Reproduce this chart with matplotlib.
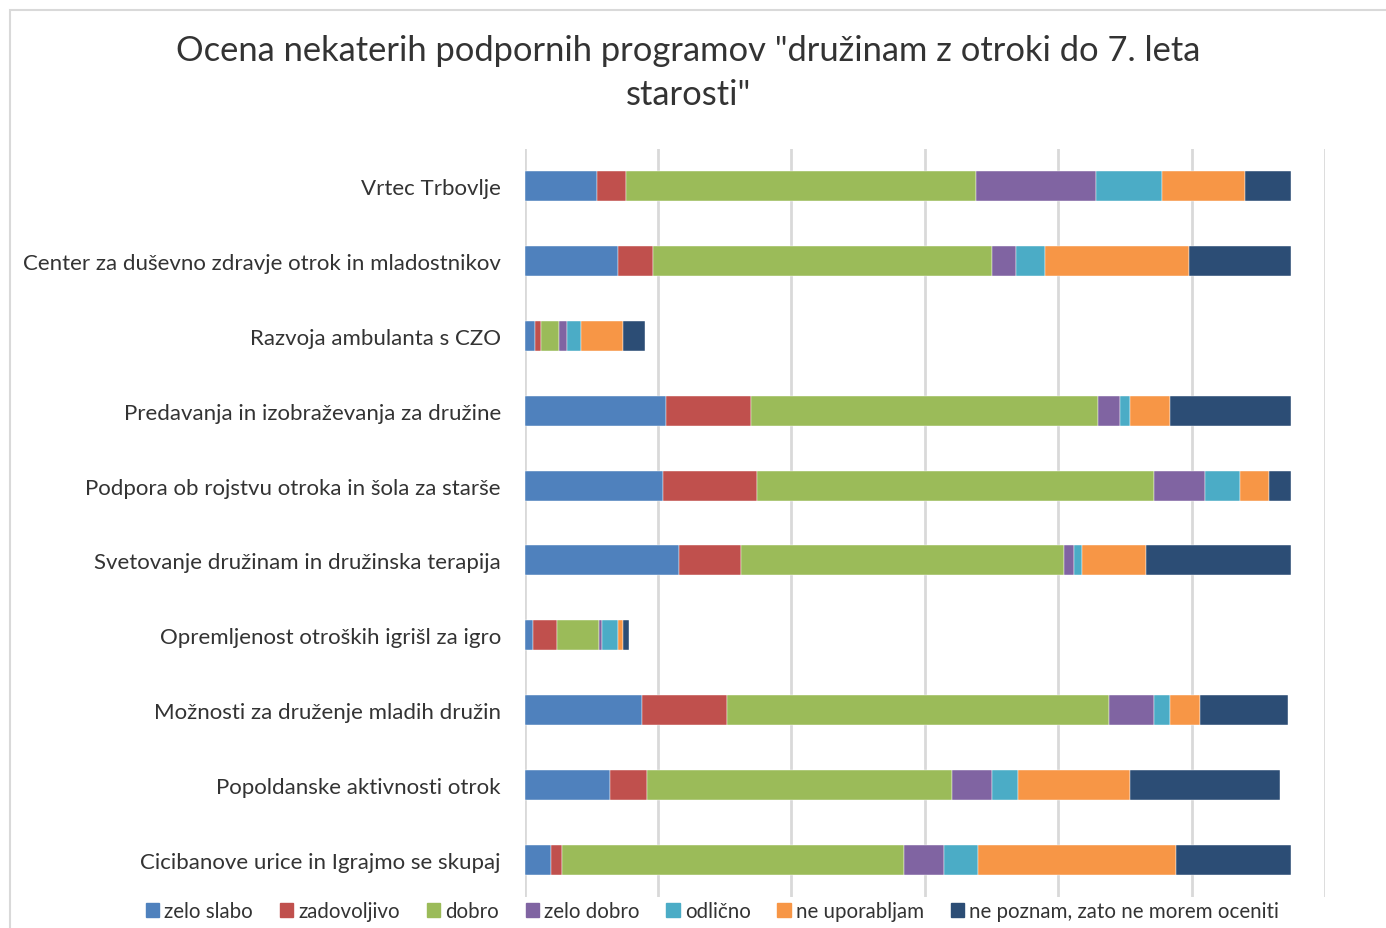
import matplotlib.pyplot as plt
import matplotlib.patches as mpatches
import numpy as np

plt.rcParams['font.family'] = ['Lato', 'DejaVu Sans']

programs = [
    "Vrtec Trbovlje",
    "Center za duševno zdravje otrok in mladostnikov",
    "Razvoja ambulanta s CZO",
    "Predavanja in izobraževanja za družine",
    "Podpora ob rojstvu otroka in šola za starše",
    "Svetovanje družinam in družinska terapija",
    "Opremljenost otroških igrišl za igro",
    "Možnosti za druženje mladih družin",
    "Popoldanske aktivnosti otrok",
    "Cicibanove urice in Igrajmo se skupaj",
]

ratings = ["zelo slabo", "zadovoljivo", "dobro", "zelo dobro", "odlično",
           "ne uporabljam", "ne poznam, zato ne morem oceniti"]

zelo_slabo    = [27, 35, 4, 53, 52, 58, 3, 44, 32, 10]
zadovoljivo   = [11, 13, 2, 32, 35, 23, 9, 32, 14, 4]
dobro         = [131, 127, 7, 130, 149, 121, 16, 143, 114, 128]
zelo_dobro    = [45, 9, 3, 8, 19, 4, 1, 17, 15, 15]
odlicno       = [25, 11, 5, 4, 13, 3, 6, 6, 10, 13]
ne_uporabljam = [31, 54, 16, 15, 11, 24, 2, 11, 42, 74]
ne_poznam     = [17, 38, 8, 45, 8, 54, 2, 33, 56, 43]

series = [zelo_slabo, zadovoljivo, dobro, zelo_dobro, odlicno, ne_uporabljam, ne_poznam]
colors = ["#4F81BD", "#C0504D", "#9BBB59", "#8064A2", "#4BACC6", "#F79646", "#2C4D75"]

fig = plt.figure(figsize=(13.86, 9.29), dpi=100)
ax = fig.add_axes([524.5 / 1386, 1 - 898 / 929, (1325.3 - 524.5) / 1386, (898 - 150) / 929])

y = np.arange(len(programs))
left = np.zeros(len(programs))
for vals, col, name in zip(series, colors, ratings):
    vals = np.array(vals, dtype=float)
    ax.barh(y, vals, left=left, height=0.4, color=col, label=name,
            edgecolor="white", linewidth=0.3, zorder=3)
    left += vals

ax.set_xlim(0, 300)
ax.set_ylim(len(programs) - 0.5, -0.5)
ax.set_xticks(np.arange(0, 301, 50))
ax.xaxis.grid(True, color="#D9D9D9", linewidth=2, zorder=0)
ax.tick_params(axis="x", length=0, labelbottom=False)
ax.tick_params(axis="y", length=0, pad=17, labelsize=16, labelcolor="#333333")
ax.set_yticks(y)
ax.set_yticklabels(programs)
for s in ax.spines.values():
    s.set_visible(False)

# naslov
fig.text(688 / 1386, 1 - 73 / 929,
         "Ocena nekaterih podpornih programov \"družinam z otroki do 7. leta\nstarosti\"",
         ha="center", va="center", fontsize=24.8, color="#333333", linespacing=1.45)

handles = [mpatches.Patch(color=c, label=n) for c, n in zip(colors, ratings)]
fig.legend(handles=handles, loc="center", bbox_to_anchor=(712.5 / 1386, 1 - 912 / 929),
           ncol=7, frameon=False, fontsize=14.8, handlelength=0.65, handleheight=0.65,
           handletextpad=0.25, columnspacing=1.3, labelcolor="#333333")

border = mpatches.Rectangle((10 / 1386, -0.05), 1.1, 1 - 11 / 929 + 0.05,
                            transform=fig.transFigure, fill=False,
                            edgecolor="#D9D9D9", linewidth=1.5)
fig.patches.append(border)

fig.savefig("out.png", dpi=100)
